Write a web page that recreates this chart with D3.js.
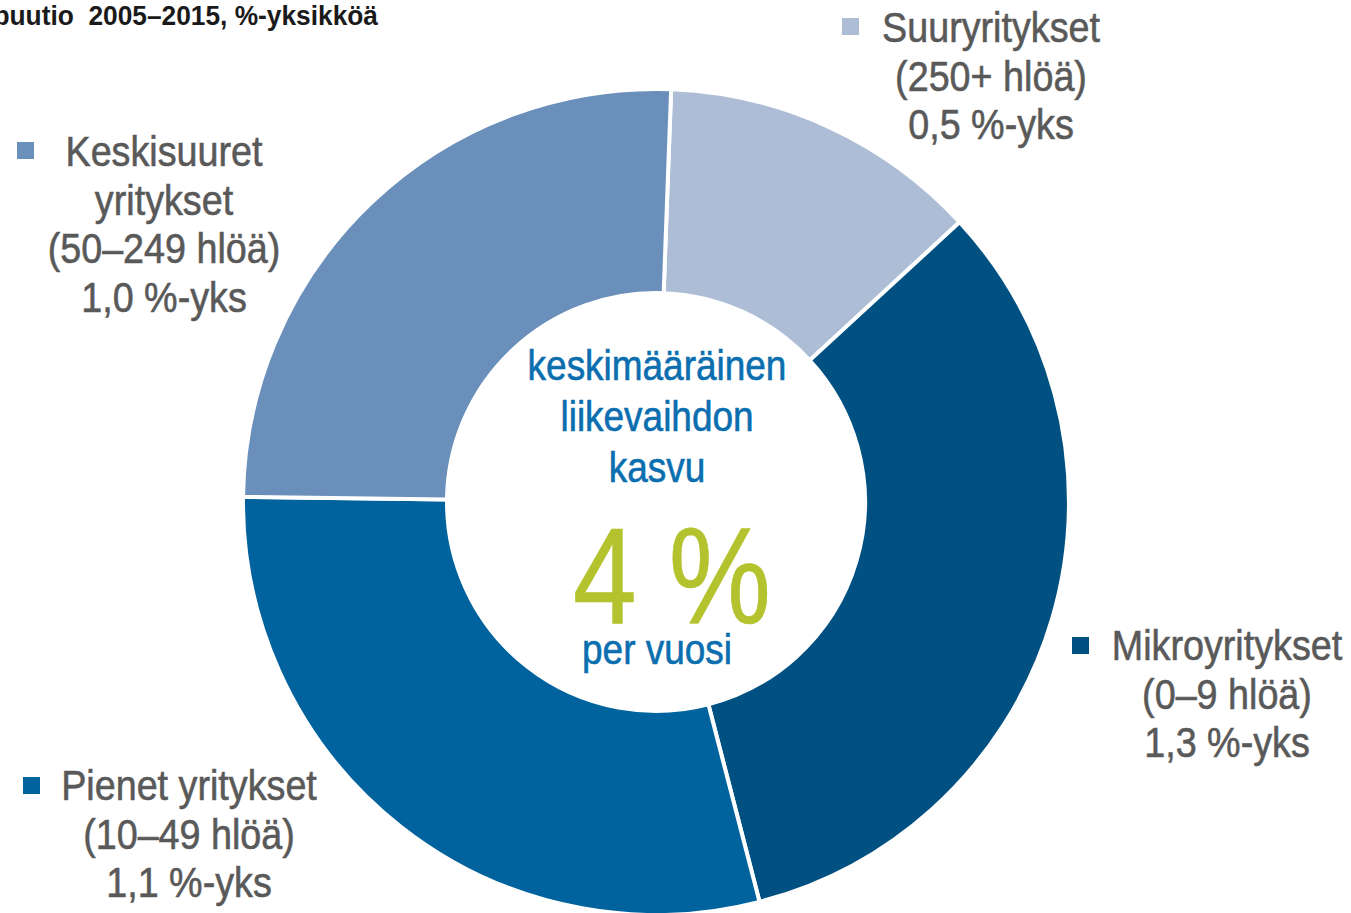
<!DOCTYPE html>
<html>
<head>
<meta charset="utf-8">
<script src="https://cdn.jsdelivr.net/npm/d3@7"></script>
<style>
  body { margin: 0; background: #fff; }
  text { font-family: "Liberation Sans", Arial, sans-serif; }
</style>
</head>
<body>
<div id="chart"></div>
<script>
// data, clockwise from the top
var categories = ["Suuryritykset", "Mikroyritykset", "Pienet yritykset", "Keskisuuret yritykset"];
var sizeClass = ["(250+ hlöä)", "(0–9 hlöä)", "(10–49 hlöä)", "(50–249 hlöä)"];
var values = [0.49, 1.28, 1.14, 0.99];
var valueLabels = ["0,5 %-yks", "1,3 %-yks", "1,1 %-yks", "1,0 %-yks"];
var centerLines = ["keskimääräinen", "liikevaihdon", "kasvu"];
var centerValue = "4 %";
var centerUnit = "per vuosi";
var titleText = "Yrityskokoluokkien kontribuutio  2005–2015, %-yksikköä";

var colors = ["#adbdd5", "#005082", "#00639e", "#6a8fbb"];

var width = 1351, height = 913;
var cx = 656, cy = 502;
var outerR = 413, innerR = 209;

var svg = d3.select("#chart")
  .append("svg")
    .attr("width", width)
    .attr("height", height);

// no narrow font installed, so squeeze Liberation Sans horizontally
function addText(parent, x, y, str, size, k, fill, anchor, weight) {
  var t = parent.append("text")
    .attr("transform", "translate(" + x + "," + y + ") scale(" + k + ",1)")
    .attr("text-anchor", anchor || "middle")
    .attr("fill", fill)
    .style("font-size", size + "px")
    .style("font-weight", weight || "normal")
    .style("white-space", "pre")
    .text(str);
  // a touch heavier, like the original's narrow face
  if (!weight) t.attr("stroke", fill).attr("stroke-width", 0.6);
  return t;
}

// title, cut at the left edge like the original
addText(svg, 378, 25, titleText, 28, 0.94, "#1a1a1a", "end", "bold");

var pie = d3.pie()
  .sort(null)
  .value(function(d) { return d; })
  .startAngle(2.1 * Math.PI / 180)
  .endAngle(2.1 * Math.PI / 180 + 2 * Math.PI);

var arc = d3.arc()
  .innerRadius(innerR)
  .outerRadius(outerR);

var g = svg.append("g")
  .attr("transform", "translate(" + cx + "," + cy + ")");

g.selectAll("path")
  .data(pie(values))
  .enter()
  .append("path")
    .attr("d", arc)
    .attr("fill", function(d, i) { return colors[i]; })
    .attr("stroke", "#fff")
    .attr("stroke-width", 4);

// center text
centerLines.forEach(function(d, i) {
  addText(g, 1, -122 + i * 51, d, 42, 0.88, "#0a6eaf");
});
addText(g, 16, 121, centerValue, 137, 0.84, "#b3c22d");
addText(g, 1, 162, centerUnit, 42, 0.88, "#0a6eaf");

// labels: square marker + centred text block
var labelPos = [
  {sx: 842, sy: 18, tx: 991, ty: 42},
  {sx: 1072, sy: 637, tx: 1227, ty: 660},
  {sx: 23, sy: 777, tx: 189, ty: 800},
  {sx: 17, sy: 142, tx: 164, ty: 166}
];

categories.forEach(function(c, i) {
  var p = labelPos[i];
  var lines;
  if (i == 3) lines = ["Keskisuuret", "yritykset", sizeClass[i], valueLabels[i]];
  else lines = [c, sizeClass[i], valueLabels[i]];

  svg.append("rect")
    .attr("x", p.sx)
    .attr("y", p.sy)
    .attr("width", 17)
    .attr("height", 17)
    .attr("fill", colors[i]);

  lines.forEach(function(d, j) {
    addText(svg, p.tx, p.ty + j * 48.5, d, 43, 0.877, "#595959");
  });
});
</script>
</body>
</html>
